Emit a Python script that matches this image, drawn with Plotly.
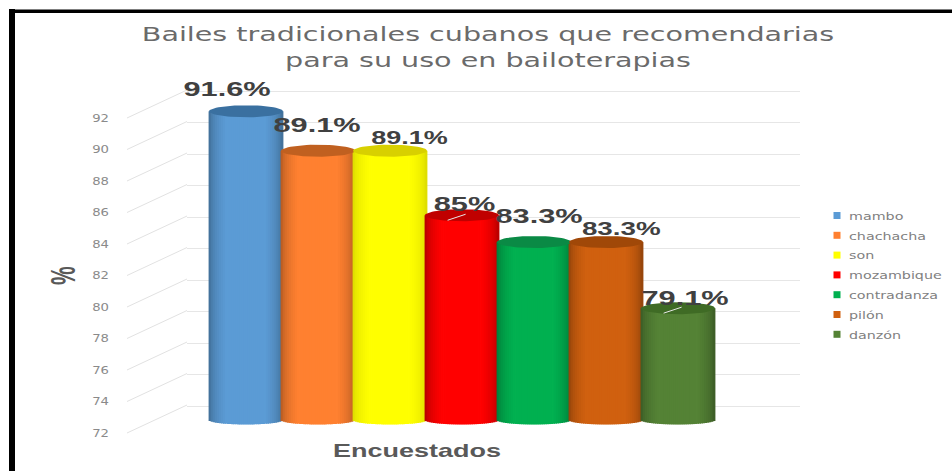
import math
import plotly.graph_objects as go

# Survey results
dances = ["mambo", "chachacha", "son", "mozambique", "contradanza", "pilón", "danzón"]
percent = [91.6, 89.1, 89.1, 85, 83.3, 83.3, 79.1]
y_ticks = [72, 74, 76, 78, 80, 82, 84, 86, 88, 90, 92]

# Cylinder colours: body and darker top cap
body_colors = ["#5B9BD5", "#FF8030", "#FFFF00", "#FF0000", "#00B050", "#D0600F", "#548235"]
cap_colors = ["#3A70A0", "#C06020", "#D8D000", "#C00000", "#0A8A45", "#A04808", "#3F6B25"]

# Data label tweaks: font size and pixel offset from the cap
label_size = [20.5, 20.5, 18, 20.5, 20.5, 18.5, 20.5]
label_dx = [-19, -1, 19, 2, 5, 15, 7]
label_dy = [23, 26, 13, 12, 27, 14, 11]
has_leader = [False, False, False, True, False, False, True]

W, H = 952, 471
PX_PER_UNIT = 15.75          # vertical pixels for one percentage point
PX_X0, PX_X1 = 187, 800      # back wall extent
PX_TOP, PX_BOTTOM = 80, 445  # plot area
PITCH, FIRST = 72, 246       # spacing and centre of the first cylinder
BAR_W = 74 / PITCH           # cylinder width in category units
STRIPS = 36
CAP_PX = 6
BASE_PX = 4.5
BASE = y_ticks[0]


def axis_range(px_at_base, top=PX_TOP, bottom=PX_BOTTOM):
    """Value range that puts the base value at a given pixel row."""
    return [BASE + (px_at_base - bottom) / PX_PER_UNIT, BASE + (px_at_base - top) / PX_PER_UNIT]


def shade(color, f):
    r, g, b = (int(color[i:i + 2], 16) for i in (1, 3, 5))
    return f"rgb({r * f:.0f},{g * f:.0f},{b * f:.0f})"


fig = go.Figure()

# Back wall gridlines and front tick labels live on their own axes
fig.add_trace(go.Scatter(x=[0] * len(y_ticks), y=y_ticks, yaxis="y3", mode="none",
                         showlegend=False, hoverinfo="skip"))
fig.add_trace(go.Scatter(x=[0] * len(y_ticks), y=y_ticks, yaxis="y2", mode="none",
                         showlegend=False, hoverinfo="skip"))

for i, (name, value) in enumerate(zip(dances, percent)):
    ts = [-1 + (2 * k + 1) / STRIPS for k in range(STRIPS)]
    bases = [BASE - BASE_PX / PX_PER_UNIT * math.sqrt(1 - t * t) for t in ts]
    edge = 0.85 if name == "son" else 0.68
    colors = [shade(body_colors[i], edge + (1 - edge) * min(1, 1.35 * math.sqrt(1 - t * t) - 0.15))
              for t in ts]
    fig.add_trace(go.Bar(
        x=[i + t * BAR_W / 2 for t in ts],
        y=[value - b for b in bases],
        base=bases,
        width=BAR_W / STRIPS * 1.4,
        marker=dict(color=colors, line=dict(width=0)),
        showlegend=False, hoverinfo="skip",
    ))
    angles = [2 * math.pi * k / 60 for k in range(61)]
    fig.add_trace(go.Scatter(
        x=[i + BAR_W / 2 * math.cos(a) for a in angles],
        y=[value + CAP_PX / PX_PER_UNIT * math.sin(a) for a in angles],
        mode="lines", fill="toself", fillcolor=cap_colors[i],
        line=dict(width=0, color=cap_colors[i]),
        showlegend=False, hoverinfo="skip",
    ))
    if has_leader[i]:
        fig.add_trace(go.Scatter(
            x=[i - 0.2, i + 0.05],
            y=[value - 5 / PX_PER_UNIT, value + 1 / PX_PER_UNIT],
            mode="lines", line=dict(width=1, color="#e8e8e8"),
            showlegend=False, hoverinfo="skip",
        ))

for i, value in enumerate(percent):
    fig.add_annotation(
        x=i, y=value, xref="x", yref="y", text=f"{value}%", showarrow=False,
        xshift=label_dx[i], yshift=label_dy[i],
        font=dict(family="Liberation Sans", size=label_size[i], color="#404040", weight="bold"),
    )

# Legend entries
for name, color in zip(dances, body_colors):
    fig.add_trace(go.Scatter(x=[None], y=[None], mode="markers", name=name, legendgroup=name,
                             marker=dict(symbol="square", size=7, color=color)))

# Floor diagonals joining each front tick to the back wall
shapes = [dict(type="line", xref="paper", yref="y2", layer="below",
               x0=127 / W, x1=PX_X0 / W, y0=v, y1=v + 28 / PX_PER_UNIT,
               line=dict(color="#e2e2e2", width=1)) for v in y_ticks]
# Black frame on the left and top
shapes += [
    dict(type="rect", xref="paper", yref="paper", x0=9 / W, x1=15 / W, y0=0, y1=1 - 9 / H,
         fillcolor="black", line=dict(width=0)),
    dict(type="rect", xref="paper", yref="paper", x0=9 / W, x1=1, y0=1 - 13 / H, y1=1 - 9.5 / H,
         fillcolor="black", line=dict(width=0)),
]

# Axis captions
fig.add_annotation(
    x=62 / W, y=1 - 276 / H, xref="paper", yref="paper", xanchor="center", yanchor="middle",
    text="%", textangle=-90, showarrow=False,
    font=dict(family="Liberation Sans", size=21, color="#595959", weight="bold"),
)
fig.add_annotation(
    x=416.5 / W, y=1 - 451 / H, xref="paper", yref="paper", xanchor="center", yanchor="middle",
    text="Encuestados", showarrow=False,
    font=dict(family="Liberation Sans", size=18, color="#595959", weight="bold"),
)

fig.update_layout(
    width=W, height=H, margin=dict(l=0, r=0, t=0, b=0),
    paper_bgcolor="white", plot_bgcolor="white",
    barmode="overlay",
    shapes=shapes,
    title=dict(
        text="Bailes tradicionales cubanos que recomendarias<br>para su uso en bailoterapias",
        x=488 / W, xanchor="center", xref="paper",
        y=1 - 41 / H, yanchor="top",
        font=dict(family="DejaVu Sans", size=20, color="#6a6a6a"),
    ),
    xaxis=dict(
        domain=[PX_X0 / W, PX_X1 / W],
        range=[(PX_X0 - FIRST) / PITCH, (PX_X1 - FIRST) / PITCH],
        showgrid=False, zeroline=False, showticklabels=False, showline=False,
    ),
    yaxis=dict(
        domain=[1 - PX_BOTTOM / H, 1 - PX_TOP / H],
        range=axis_range(420),
        showgrid=False, zeroline=False, showticklabels=False, showline=False,
    ),
    yaxis2=dict(
        overlaying="y", anchor="free", position=109 / W, side="left",
        range=axis_range(433), tickvals=y_ticks, showgrid=False, zeroline=False,
        showline=False, ticks="",
        tickfont=dict(family="DejaVu Sans", size=11, color="#8a8a8a"),
    ),
    yaxis3=dict(
        overlaying="y", anchor="x", side="left",
        range=axis_range(406), tickvals=y_ticks, showgrid=True, gridcolor="#e6e6e6",
        gridwidth=1, zeroline=False, showline=False, showticklabels=False, ticks="",
    ),
    legend=dict(
        x=809 / W, xanchor="left", y=1 - 201 / H, yanchor="top",
        bgcolor="rgba(0,0,0,0)", tracegroupgap=0.8,
        font=dict(family="DejaVu Sans", size=11, color="#7f7f7f"),
    ),
    showlegend=True,
)

# The chart's lettering is drawn wide: widen each text about its anchor once the plot is up
WIDEN_TEXT = """
var gd = document.querySelector('.plotly-graph-div');
function widen(el, sx, sy, anchor) {
  var box = el.getBBox();
  var rel = el.parentNode.getCTM().inverse().multiply(el.getCTM());
  var px = anchor === 'left' ? box.x : anchor === 'right' ? box.x + box.width : box.x + box.width / 2;
  var py = box.y + box.height / 2;
  var cx = rel.a * px + rel.c * py + rel.e;
  var cy = rel.b * px + rel.d * py + rel.f;
  var old = el.getAttribute('transform') || '';
  el.setAttribute('transform', 'translate(' + cx + ' ' + cy + ') scale(' + sx + ' ' + sy + ') translate(' + (-cx) + ' ' + (-cy) + ') ' + old);
}
gd.querySelectorAll('.gtitle').forEach(function (t) { widen(t, 1.43, 1, 'center'); });
gd.querySelectorAll('.ytick text, .y2tick text').forEach(function (t) { widen(t, 1.2, 1, 'right'); });
gd.querySelectorAll('.legendtext').forEach(function (t) { widen(t, 1.3, 1, 'left'); });
gd.querySelectorAll('.legend .scrollbox').forEach(function (b) { b.removeAttribute('clip-path'); });
gd.querySelectorAll('.annotation-text').forEach(function (t) {
  var g = t.closest('.annotation-text-g');
  var turned = (g.getAttribute('transform') || '').indexOf('rotate(-90') >= 0;
  if (turned) { widen(t, 1, 1.7, 'center'); } else { widen(t, 1.5, 1, 'center'); }
});
gd.querySelectorAll('.legendsymbols').forEach(function (s) {
  s.setAttribute('transform', 'translate(8 0) ' + (s.getAttribute('transform') || ''));
});
"""

fig.write_html("out.html", post_script=WIDEN_TEXT)
